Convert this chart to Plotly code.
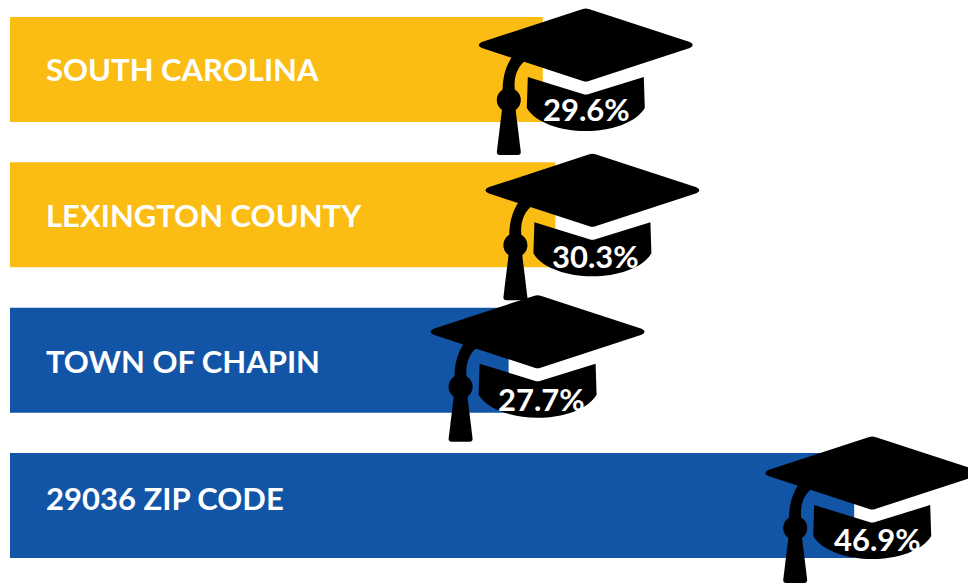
import plotly.graph_objects as go

categories = ["SOUTH CAROLINA", "LEXINGTON COUNTY", "TOWN OF CHAPIN", "29036 ZIP CODE"]
values = [29.6, 30.3, 27.7, 46.9]
value_labels = ["29.6%", "30.3%", "27.7%", "46.9%"]
bar_colors = ["#FBBD14", "#FBBD14", "#1255A6", "#1255A6"]

# placement of each decoration relative to its bar end / bar centre, in pixels
cap_dx = [43, 37, 29, 18]
cap_dy = [-24.5, -24.5, -28.5, -32.5]
label_dy = [0, 0.5, 0.5, -7.5]
pct_dx = [44, 40, 33, 23]
pct_dy = [39.5, 41, 38.5, 33.5]

W, H = 968, 584
FONT = "Lato"


def fmt(cmds):
    # commands use y-down pixels; pixel-sized shapes count y upward
    out = []
    for c in cmds:
        op, pts = c[0], c[1:]
        coords = " ".join(f"{x + 0:.1f},{-y:.1f}" for x, y in pts)
        out.append(f"{op} {coords}".strip())
    return " ".join(out)


def shifted(dx, dy, cmds):
    res = []
    for c in cmds:
        res.append((c[0], *[(x + dx, y + dy) for x, y in c[1:]]))
    return res


board = [("M", (-3, -36)), ("Q", (0, -37), (3, -36)), ("L", (104, -3)),
         ("Q", (110, 0), (104, 3)), ("L", (3, 36)), ("Q", (0, 37), (-3, 36)),
         ("L", (-104, 3)), ("Q", (-110, 0), (-104, -3)), ("Z",)]
band = [("M", (-58, 32)), ("L", (-3, 49)), ("Q", (0, 50), (3, 49)), ("L", (58, 32)),
        ("L", (59, 63)), ("C", (50, 78), (25, 86), (0, 86)),
        ("C", (-25, 86), (-50, 78), (-59, 63)), ("Z",)]
cord = [("M", (-74, 12)), ("L", (-61, 16)), ("C", (-70, 24), (-72, 34), (-71, 45)),
        ("L", (-71, 60)), ("L", (-84, 60)), ("L", (-83, 40)),
        ("C", (-82, 28), (-79, 20), (-74, 12)), ("Z",)]
k = 6.6
knot = [("M", (-89, 55)), ("C", (-89, 55 - k), (-83.6, 43), (-77, 43)),
        ("C", (-70.4, 43), (-65, 55 - k), (-65, 55)),
        ("C", (-65, 55 + k), (-70.4, 67), (-77, 67)),
        ("C", (-83.6, 67), (-89, 55 + k), (-89, 55)), ("Z",)]
tassel = [("M", (-83.5, 62)), ("L", (-70.5, 62)), ("L", (-65, 107)),
          ("Q", (-65, 110), (-68, 110)), ("L", (-86, 110)),
          ("Q", (-89, 110), (-89, 107)), ("Z",)]
CAP_PARTS = [board, band, cord, knot, tassel]

fig = go.Figure(
    go.Bar(
        x=values,
        y=categories,
        orientation="h",
        marker=dict(color=bar_colors, line=dict(width=0)),
        width=0.7225,
        hoverinfo="skip",
    )
)

shapes = []
annotations = []
for i, cat in enumerate(categories):
    for part in CAP_PARTS:
        shapes.append(dict(
            type="path", xref="x", yref="y",
            xsizemode="pixel", ysizemode="pixel",
            xanchor=values[i], yanchor=cat,
            path=fmt(shifted(cap_dx[i], cap_dy[i], part)),
            fillcolor="#000000", line=dict(width=0), layer="above",
        ))
    annotations.append(dict(
        x=0, y=cat, xref="x", yref="y", text=f"<b>{cat}</b>", showarrow=False,
        xanchor="left", yanchor="middle", xshift=34, yshift=-label_dy[i],
        font=dict(family=FONT, size=31, color="#FFFFFF"),
    ))
    annotations.append(dict(
        x=values[i], y=cat, xref="x", yref="y", text=f"<b>{value_labels[i]}</b>",
        showarrow=False, xanchor="center", yanchor="middle",
        xshift=pct_dx[i], yshift=-pct_dy[i],
        font=dict(family=FONT, size=31, color="#FFFFFF"),
    ))

fig.update_layout(
    width=W, height=H,
    margin=dict(l=0, r=0, t=0, b=0),
    paper_bgcolor="#FFFFFF", plot_bgcolor="#FFFFFF",
    showlegend=False,
    shapes=shapes, annotations=annotations,
    xaxis=dict(range=[-10 / 18, 958 / 18], visible=False, fixedrange=True),
    yaxis=dict(type="category", categoryorder="array", categoryarray=categories,
               range=[3.540, -0.478], visible=False, fixedrange=True),
)
fig.write_html(
    "out.html",
    config=dict(displayModeBar=False),
    post_script="document.body.style.margin='0';document.body.style.overflow='hidden';",
)
